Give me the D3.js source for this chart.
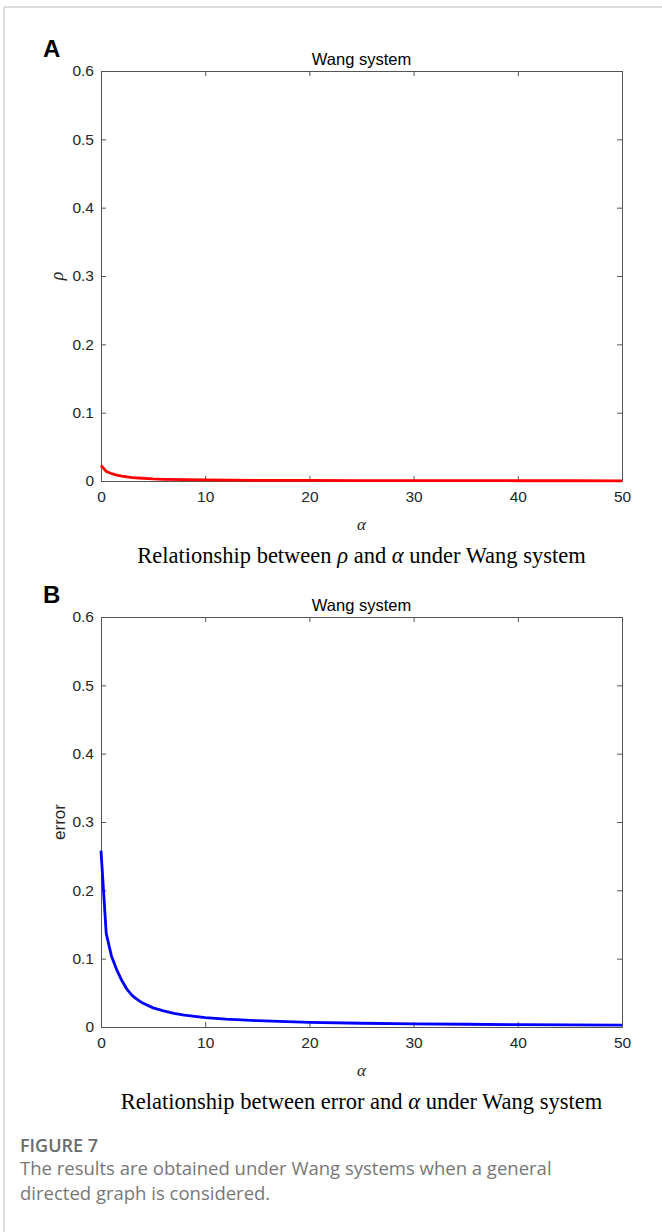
<!DOCTYPE html>
<html><head><meta charset="utf-8">
<script src="https://cdn.jsdelivr.net/npm/d3@7"></script>
<style>body{margin:0;background:#fff}svg{display:block}</style>
</head><body><div id="chart"></div>
<script>
// ---- data ----
const alphaA = [0, 0.5, 1, 1.5, 2, 3, 4, 5, 6, 8, 10, 15, 20, 25, 30, 35, 40, 45, 50];
const rhoValues = [0.023, 0.014, 0.011, 0.0085, 0.007, 0.005, 0.004, 0.003, 0.0025, 0.002, 0.0015, 0.001, 0.0008, 0.0006, 0.0005, 0.00045, 0.0004, 0.00035, 0.0003];
const alphaB = [0, 0.5, 1, 1.5, 2, 2.5, 3, 3.5, 4, 5, 6, 7, 8, 10, 12, 15, 20, 25, 30, 35, 40, 45, 50];
const errorValues = [0.258, 0.137, 0.104, 0.084, 0.068, 0.055, 0.046, 0.04, 0.035, 0.028, 0.0235, 0.02, 0.0175, 0.0138, 0.0115, 0.0092, 0.0068, 0.0055, 0.0046, 0.004, 0.0035, 0.0031, 0.0028];
const xTicks = [0, 10, 20, 30, 40, 50];
const yTicks = [0, 0.1, 0.2, 0.3, 0.4, 0.5, 0.6];
const panelTitle = "Wang system";

const W = 662, H = 1232;
const svg = d3.select("#chart").append("svg").attr("width", W).attr("height", H);

// page frame
svg.append("line").attr("x1", 4).attr("x2", W).attr("y1", 7).attr("y2", 7).attr("stroke", "#dcdcdc").attr("stroke-width", 2);
svg.append("line").attr("x1", 4).attr("x2", 4).attr("y1", 7).attr("y2", H).attr("stroke", "#dcdcdc").attr("stroke-width", 2);

const sans = "'Liberation Sans', Arial, sans-serif";
const serif = "'Liberation Serif', 'Times New Roman', serif";

function panel(cfg) {
  const left = 101, right = 622, top = cfg.top, bottom = cfg.bottom;
  const x = d3.scaleLinear().domain([0, 50]).range([left, right]);
  const y = d3.scaleLinear().domain([0, 0.6]).range([bottom, top]);
  const g = svg.append("g");
  const axColor = "#555";
  const fmt = d => d === 0 ? "0" : d3.format(".1f")(d);
  const ax = g.append("g").attr("transform", `translate(0,${bottom})`)
    .call(d3.axisBottom(x).tickValues(xTicks).tickSize(-5).tickPadding(10).tickFormat(d3.format("d")));
  const ay = g.append("g").attr("transform", `translate(${left},0)`)
    .call(d3.axisLeft(y).tickValues(yTicks).tickSize(-5).tickPadding(7).tickFormat(fmt));
  const at = g.append("g").attr("transform", `translate(0,${top})`)
    .call(d3.axisTop(x).tickValues(xTicks).tickSize(-5).tickFormat(""));
  const ar = g.append("g").attr("transform", `translate(${right},0)`)
    .call(d3.axisRight(y).tickValues(yTicks).tickSize(-5).tickFormat(""));
  [ax, ay, at, ar].forEach(a => {
    a.attr("font-size", null);
    a.selectAll("path").attr("stroke", axColor);
    a.selectAll("line").attr("stroke", axColor);
    a.selectAll("text").attr("fill", "#262626").style("font-family", sans).style("font-size", "15.5px");
  });
  const line = d3.line().x((d, i) => x(cfg.xs[i])).y(d => y(d));
  g.append("path").datum(cfg.ys).attr("d", line).attr("fill", "none")
    .attr("stroke", cfg.color).attr("stroke-width", 2.8).attr("stroke-linejoin", "round");
  g.append("text").attr("x", (left + right) / 2).attr("y", top - 6).attr("text-anchor", "middle")
    .style("font-family", sans).style("font-size", "16.5px").attr("fill", "#000").text(panelTitle);
  g.append("text").attr("x", 43).attr("y", top - 14).style("font-family", sans).style("font-weight", "bold")
    .style("font-size", "24px").attr("fill", "#000").text(cfg.letter);
  g.append("text").attr("transform", `translate(${cfg.ylabX},${(top + bottom) / 2}) rotate(-90)`)
    .attr("text-anchor", "middle").style("font-family", cfg.ylabFont).style("font-style", cfg.ylabStyle)
    .style("font-size", cfg.ylabSize).attr("fill", "#262626").text(cfg.ylabel);
  g.append("text").attr("x", (left + right) / 2).attr("y", bottom + 49).attr("text-anchor", "middle")
    .style("font-family", serif).style("font-style", "italic").style("font-size", "17px").attr("fill", "#262626").text("α");
  const c = g.append("text").attr("x", (left + right) / 2).attr("y", bottom + 82).attr("text-anchor", "middle")
    .style("font-family", serif).style("font-size", "22.5px").attr("fill", "#000");
  cfg.caption.forEach(p => c.append("tspan").style("font-style", p[1] ? "italic" : "normal").text(p[0]));
}

panel({top: 71, bottom: 481, xs: alphaA, ys: rhoValues, color: "#ff0000", letter: "A", ylabel: "ρ", ylabX: 63,
  ylabFont: serif, ylabStyle: "italic", ylabSize: "18px",
  caption: [["Relationship between ", false], ["ρ", true], [" and ", false], ["α", true], [" under Wang system", false]]});
panel({top: 617, bottom: 1027, xs: alphaB, ys: errorValues, color: "#0000ff", letter: "B", ylabel: "error", ylabX: 65,
  ylabFont: sans, ylabStyle: "normal", ylabSize: "17px",
  caption: [["Relationship between error and ", false], ["α", true], [" under Wang system", false]]});

// figure caption
const fc = "'Open Sans', 'Noto Sans', sans-serif";
svg.append("text").attr("x", 20).attr("y", 1152).style("font-family", fc).style("font-size", "18px")
  .style("font-weight", "600").attr("fill", "#6b6b6b").text("FIGURE 7");
svg.append("text").attr("x", 20).attr("y", 1175).style("font-family", fc).style("font-size", "18.5px")
  .attr("fill", "#777").text("The results are obtained under Wang systems when a general");
svg.append("text").attr("x", 20).attr("y", 1200).style("font-family", fc).style("font-size", "18.5px")
  .attr("fill", "#777").text("directed graph is considered.");
</script></body></html>
